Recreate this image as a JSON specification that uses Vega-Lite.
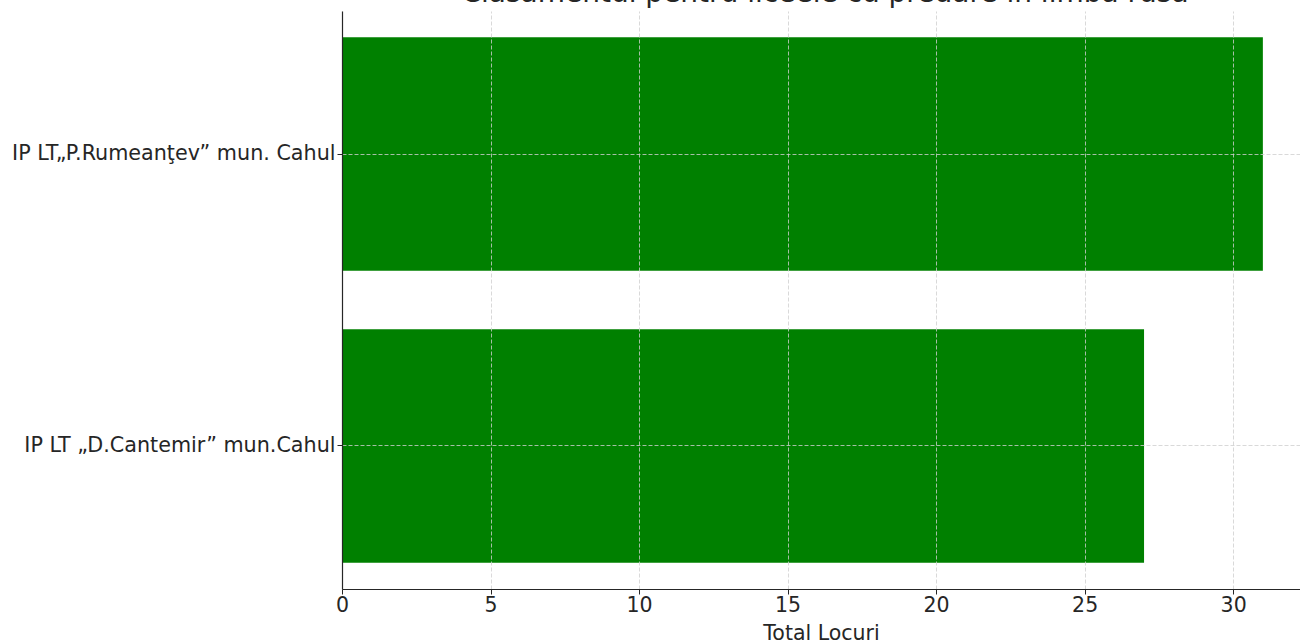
{
  "$schema": "https://vega.github.io/schema/vega-lite/v6.json",
  "autosize": "none",
  "padding": {"left": 342, "top": 11, "right": 0, "bottom": 55},
  "width": 958,
  "height": 578,
  "background": "white",
  "title": {
    "text": "Clasamentul pentru liceele cu predare în limba rusă",
    "anchor": "middle",
    "frame": "group",
    "offset": 3,
    "fontSize": 28,
    "fontWeight": "normal",
    "font": "DejaVu Sans",
    "color": "#262626",
    "dx": 4
  },
  "data": {
    "values": [
      {"liceu": "IP LT„P.Rumeanţev” mun. Cahul", "total": 31},
      {"liceu": "IP LT „D.Cantemir” mun.Cahul", "total": 27}
    ]
  },
  "mark": {"type": "bar", "color": "#008000"},
  "encoding": {
    "y": {
      "field": "liceu",
      "type": "nominal",
      "sort": null,
      "scale": {"paddingInner": 0.2, "paddingOuter": 0.09},
      "axis": {
        "title": null,
        "bandPosition": 0.5,
        "labelFont": "DejaVu Sans",
        "labelFontSize": 20.7,
        "labelColor": "#262626",
        "labelPadding": 2,
        "labelLimit": 400,
        "tickSize": 5,
        "tickColor": "#262626",
        "domainColor": "#262626",
        "domainWidth": 1.2,
        "grid": true,
        "gridColor": "#cfcfcf",
        "gridDash": [4, 2],
        "gridWidth": 0.8,
        "zindex": 1
      }
    },
    "x": {
      "field": "total",
      "type": "quantitative",
      "scale": {"domain": [0, 32.25], "nice": false, "zero": true},
      "axis": {
        "title": "Total Locuri",
        "values": [0, 5, 10, 15, 20, 25, 30],
        "labelFlush": false,
        "labelOverlap": false,
        "labelFont": "DejaVu Sans",
        "labelFontSize": 20.5,
        "labelColor": "#262626",
        "labelPadding": 1,
        "tickSize": 5,
        "tickColor": "#262626",
        "domainColor": "#262626",
        "domainWidth": 1.2,
        "titleFont": "DejaVu Sans",
        "titleFontSize": 20.5,
        "titleFontWeight": "normal",
        "titleColor": "#262626",
        "titlePadding": 8,
        "grid": true,
        "gridColor": "#cfcfcf",
        "gridDash": [4, 2],
        "gridWidth": 0.8,
        "zindex": 1
      }
    }
  },
  "config": {"view": {"stroke": null}}
}
